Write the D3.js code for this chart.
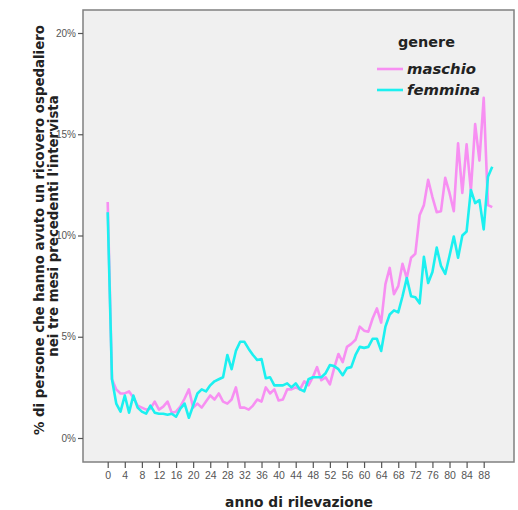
<!DOCTYPE html>
<html>
<head>
<meta charset="utf-8">
<script src="https://cdn.jsdelivr.net/npm/d3@7/dist/d3.min.js"></script>
<style>
html,body{margin:0;padding:0;background:#fff;}
svg{display:block;}
</style>
</head>
<body>
<svg id="chart" width="518" height="510"></svg>
<script>
const ages = d3.range(0, 91);
const maschio = [11.65,2.9,2.4,2.2,2.2,2.3,2.0,1.6,1.5,1.4,
1.45,1.8,1.4,1.55,1.8,1.25,1.3,1.55,1.95,2.4,
1.5,1.7,1.5,1.8,2.1,1.9,2.2,1.8,1.7,1.9,
2.5,1.5,1.5,1.4,1.6,1.9,1.8,2.5,2.2,2.4,
1.85,1.9,2.4,2.4,2.5,2.4,2.8,2.6,3.0,3.5,
2.85,3.0,2.65,3.45,4.15,3.75,4.5,4.65,4.85,5.5,
5.3,5.25,5.9,6.4,5.7,7.6,8.4,7.1,7.5,8.6,
7.9,8.9,9.1,11.0,11.5,12.75,11.9,11.15,11.2,12.85,
12.1,11.2,14.55,12.1,14.5,12.2,15.5,13.7,16.8,11.5,
11.4];
const femmina = [11.15,2.9,1.7,1.3,2.1,1.25,2.1,1.5,1.3,1.2,
1.6,1.25,1.2,1.2,1.15,1.2,1.05,1.45,1.7,1.0,
1.6,2.2,2.4,2.3,2.6,2.8,2.9,3.0,4.1,3.4,
4.3,4.75,4.75,4.4,4.1,3.85,3.9,2.95,3.0,2.6,
2.6,2.6,2.7,2.5,2.7,2.4,2.3,2.9,3.0,3.0,
3.0,3.2,3.6,3.55,3.4,3.1,3.45,3.5,4.1,4.5,
4.45,4.5,4.9,4.9,4.3,5.5,6.1,6.3,6.2,7.0,
7.9,7.0,6.95,6.65,8.95,7.65,8.2,9.4,8.5,8.1,
9.0,9.95,8.9,10.0,10.2,12.25,11.6,11.75,10.3,12.9,
13.4];
const xTicks = d3.range(0, 89, 4);
const yTicks = [0, 5, 10, 15, 20];
const seriesNames = ["maschio", "femmina"];
const seriesColors = ["#f78ff2", "#1cf0f0"];
const legendTitle = "genere";
const xTitle = "anno di rilevazione";
const yTitle = ["% di persone che hanno avuto un ricovero ospedaliero", "nei tre mesi precedenti l'intervista"];

const svg = d3.select("#chart");
const frame = {left: 83, top: 10, right: 514, bottom: 462};
const titleFont = "'DejaVu Sans', Verdana, sans-serif";
const tickFont = "'Liberation Sans', Arial, sans-serif";

const x = d3.scaleLinear().domain([0, 88]).range([107.7, 483.7]);
const y = d3.scaleLinear().domain([0, 20]).range([438, 33]);

svg.append("rect")
  .attr("x", frame.left).attr("y", frame.top)
  .attr("width", frame.right - frame.left).attr("height", frame.bottom - frame.top)
  .attr("fill", "#f0f0f0").attr("stroke", "#808080").attr("stroke-width", 1.5);

// Y axis
const yAxis = d3.axisLeft(y).tickValues(yTicks).tickFormat(d => d + "%").tickSize(5).tickPadding(2);
const gy = svg.append("g").attr("transform", `translate(${frame.left},0)`).call(yAxis);
gy.select(".domain").remove();
gy.selectAll(".tick line").attr("stroke", "#555").attr("stroke-width", 1.2);
gy.selectAll(".tick text").attr("fill", "#555").style("font-family", tickFont).style("font-size", "10px");

// X axis
const xAxis = d3.axisBottom(x).tickValues(xTicks).tickSize(6).tickPadding(4);
const gx = svg.append("g").attr("transform", `translate(0,${frame.bottom})`).call(xAxis);
gx.select(".domain").remove();
gx.selectAll(".tick line").attr("stroke", "#555").attr("stroke-width", 1.2);
gx.selectAll(".tick text").attr("fill", "#555").style("font-family", tickFont).style("font-size", "10.5px");

// Lines
const line = d3.line().x((d, i) => x(ages[i])).y(d => y(d)).curve(d3.curveLinear);
[maschio, femmina].forEach((vals, k) => {
  svg.append("path").datum(vals)
    .attr("d", line)
    .attr("fill", "none")
    .attr("stroke", seriesColors[k])
    .attr("stroke-width", 2.6)
    .attr("stroke-linejoin", "round");
});

function fitWidth(sel, target) {
  const w = sel.node().getComputedTextLength();
  const fs = parseFloat(sel.style("font-size"));
  const nfs = fs * target / w;
  sel.style("font-size", nfs + "px");
  return nfs;
}

// Axis titles
const xt = svg.append("text")
  .attr("x", 299).attr("y", 507)
  .attr("text-anchor", "middle")
  .style("font-family", titleFont)
  .style("font-weight", "bold").style("font-size", "13px")
  .attr("fill", "#222")
  .text(xTitle);
fitWidth(xt, 148);

const yt1 = svg.append("text")
  .attr("transform", "translate(44,230) rotate(-90)")
  .attr("text-anchor", "middle")
  .style("font-family", titleFont)
  .style("font-weight", "bold").style("font-size", "13px")
  .attr("fill", "#222")
  .text(yTitle[0]);
const ytSize = fitWidth(yt1, 410);
svg.append("text")
  .attr("transform", "translate(58,226) rotate(-90)")
  .attr("text-anchor", "middle")
  .style("font-family", titleFont)
  .style("font-weight", "bold")
  .style("font-size", ytSize + "px")
  .attr("fill", "#222")
  .text(yTitle[1]);

// Legend
const lt = svg.append("text")
  .attr("x", 398).attr("y", 47)
  .style("font-family", titleFont)
  .style("font-weight", "bold").style("font-size", "14px")
  .attr("fill", "#222")
  .text(legendTitle);
fitWidth(lt, 57);
let legSize = 14;
seriesNames.forEach((name, k) => {
  const ly = 69 + k * 21;
  svg.append("line")
    .attr("x1", 377).attr("x2", 403).attr("y1", ly).attr("y2", ly)
    .attr("stroke", seriesColors[k]).attr("stroke-width", 2.6);
  const t = svg.append("text")
    .attr("x", 407).attr("y", ly + 5)
    .style("font-family", titleFont)
    .style("font-weight", "bold").style("font-style", "italic").style("font-size", legSize + "px")
    .attr("fill", "#222")
    .text(name);
  if (k === 0) legSize = fitWidth(t, 69);
});
</script>
</body>
</html>
